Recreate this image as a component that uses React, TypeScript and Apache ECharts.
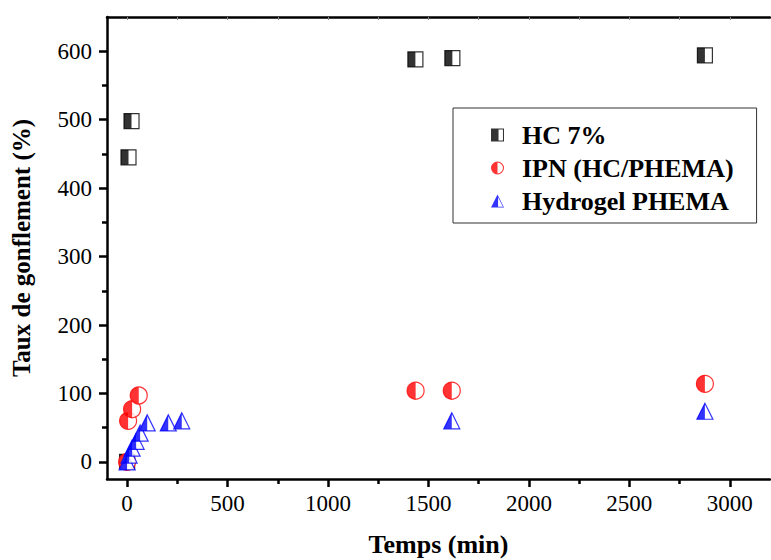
import React, { useEffect, useRef } from "react";
import * as echarts from "echarts";

// ---- data ----
const hcTime = [0, 7, 22, 1435, 1619, 2876];
const hcSwelling = [0, 445, 498, 588, 590, 594];

const ipnTime = [0, 5, 25, 58, 1436, 1616, 2876];
const ipnSwelling = [0, 60, 77, 97, 104, 104, 114];

const phemaTime = [0, 10, 25, 45, 65, 100, 205, 272, 1616, 2876];
const phemaSwelling = [0, 10, 20, 30, 42, 57, 57, 60, 60, 74];

const seriesNames = ["HC 7%", "IPN (HC/PHEMA)", "Hydrogel PHEMA"];

const xMajorTicks = [0, 500, 1000, 1500, 2000, 2500, 3000];
const xMinorTicks = [250, 750, 1250, 1750, 2250, 2750];
const yMajorTicks = [0, 100, 200, 300, 400, 500, 600];
const yMinorTicks = [50, 150, 250, 350, 450, 550];

const FONT = "'Liberation Serif', 'Times New Roman', serif";

const pairs = (xs: number[], ys: number[]) => xs.map((x, i) => [x, ys[i]]);

// legend icons: filled left half + outlined right half
const squareIcon =
  "path://M0,0H5V10H0Z M5,0H10V10H5Z M5.8,0.8V9.2H9.2V0.8Z";
const circleIcon =
  "path://M10,0A10,10 0 0 0 10,20Z M10,0A10,10 0 0 1 10,20L10,18.4A8.4,8.4 0 0 0 10,1.6Z";
const triangleIcon =
  "path://M10,0L0,20L10,20Z M10,0L20,20L10,20Z M10.9,4.04L10.9,19L18.38,19Z";

const halfCircle = "path://M10,0A10,10 0 0 0 10,20Z";
const halfTriangle = "path://M10,0L0,20L10,20Z";

function buildPair(
  name: string,
  data: number[][],
  color: string,
  fullSymbol: string,
  size: number[],
  halfSymbol: string
) {
  return [
    {
      name: name + " (fond)",
      type: "scatter",
      data,
      symbol: fullSymbol,
      symbolSize: size,
      itemStyle: { color: "#ffffff", borderColor: color, borderWidth: 1.2 },
      emphasis: { disabled: true },
      z: 2,
    },
    {
      name,
      type: "scatter",
      data,
      symbol: halfSymbol,
      symbolSize: [size[0] / 2, size[1]],
      symbolOffset: [-size[0] / 4, 0],
      itemStyle: { color },
      emphasis: { disabled: true },
      z: 2,
    },
  ];
}

const plain = (v: number) => String(v);

export default function App() {
  const ref = useRef<HTMLDivElement>(null);

  useEffect(() => {
    if (!ref.current) return;
    const chart = echarts.init(ref.current, undefined, { renderer: "svg" });

    const lineStyle = { color: "#000", width: 2.5 };

    const option: any = {
      animation: false,
      backgroundColor: "#ffffff",
      textStyle: { fontFamily: FONT },
      grid: {
        left: 107,
        top: 17,
        right: 1,
        bottom: 81,
        containLabel: false,
        outerBoundsMode: "none",
      },
      legend: {
        orient: "vertical",
        left: 453,
        top: 108,
        padding: [14, 23, 9, 38],
        borderColor: "#333",
        borderWidth: 1,
        itemWidth: 13,
        itemHeight: 13,
        itemGap: 7,
        data: [
          { name: seriesNames[0], icon: squareIcon },
          { name: seriesNames[1], icon: circleIcon },
          { name: seriesNames[2], icon: triangleIcon },
        ],
        textStyle: {
          fontFamily: FONT,
          fontWeight: "bold",
          fontSize: 26,
          lineHeight: 26,
          color: "#000",
          padding: [0, 0, 0, 13],
        },
      },
      xAxis: [
        {
          type: "value",
          position: "bottom",
          min: -100,
          max: 3200,
          axisLine: { show: true, onZero: false, lineStyle },
          axisTick: {
            show: true,
            customValues: xMajorTicks,
            length: 8,
            lineStyle: { color: "#000", width: 2.5 },
          },
          axisLabel: {
            customValues: xMajorTicks,
            formatter: plain,
            fontFamily: FONT,
            fontSize: 23,
            color: "#000",
            margin: 13,
          },
          splitLine: { show: false },
          name: "Temps (min)",
          nameLocation: "middle",
          nameGap: 52,
          nameTextStyle: {
            fontFamily: FONT,
            fontWeight: "bold",
            fontSize: 26,
            color: "#000",
          },
        },
        {
          type: "value",
          position: "bottom",
          min: -100,
          max: 3200,
          axisLine: { show: false, onZero: false },
          axisTick: {
            show: true,
            customValues: xMinorTicks,
            length: 5,
            lineStyle: { color: "#000", width: 2.5 },
          },
          axisLabel: { show: false },
          splitLine: { show: false },
        },
        {
          type: "value",
          position: "top",
          min: -100,
          max: 3200,
          axisLine: { show: true, onZero: false, lineStyle },
          axisTick: {
            show: true,
            inside: true,
            customValues: xMajorTicks.concat(xMinorTicks),
            length: 3,
            lineStyle: { color: "#888", width: 1 },
          },
          axisLabel: { show: false },
          splitLine: { show: false },
        },
      ],
      yAxis: [
        {
          type: "value",
          position: "left",
          min: -25,
          max: 650,
          axisLine: { show: true, onZero: false, lineStyle },
          axisTick: {
            show: true,
            customValues: yMajorTicks,
            length: 8,
            lineStyle: { color: "#000", width: 2.5 },
          },
          axisLabel: {
            customValues: yMajorTicks,
            formatter: plain,
            fontFamily: FONT,
            fontSize: 23,
            color: "#000",
            margin: 15,
          },
          splitLine: { show: false },
          name: "Taux de gonflement (%)",
          nameLocation: "middle",
          nameGap: 73,
          nameTextStyle: {
            fontFamily: FONT,
            fontWeight: "bold",
            fontSize: 25,
            color: "#000",
          },
        },
        {
          type: "value",
          position: "left",
          min: -25,
          max: 650,
          axisLine: { show: false, onZero: false },
          axisTick: {
            show: true,
            customValues: yMinorTicks,
            length: 5,
            lineStyle: { color: "#000", width: 2.5 },
          },
          axisLabel: { show: false },
          splitLine: { show: false },
        },
      ],
      series: [
        ...buildPair(
          seriesNames[0],
          pairs(hcTime, hcSwelling),
          "#000000",
          "rect",
          [15, 15],
          "rect"
        ),
        ...buildPair(
          seriesNames[1],
          pairs(ipnTime, ipnSwelling),
          "#ff0000",
          "circle",
          [17, 17],
          halfCircle
        ),
        ...buildPair(
          seriesNames[2],
          pairs(phemaTime, phemaSwelling),
          "#0000ff",
          "triangle",
          [16, 16],
          halfTriangle
        ),
      ],
    };

    chart.setOption(option);
    return () => chart.dispose();
  }, []);

  return (
    <div
      ref={ref}
      style={{
        position: "fixed",
        left: 0,
        top: 0,
        width: 771,
        height: 560,
        background: "#fff",
      }}
    />
  );
}
